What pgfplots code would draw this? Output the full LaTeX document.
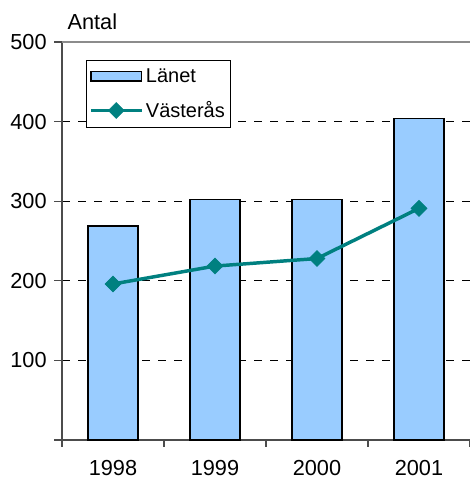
\documentclass[border=0pt]{standalone}
\usepackage{fontspec}
\setmainfont{Liberation Sans}
\usepackage{pgfplots}
\pgfplotsset{compat=1.18}
\definecolor{barblue}{HTML}{99CCFF}
\definecolor{teal2}{HTML}{008080}
\pgfplotsset{
  barlegend/.style={legend image code/.code={\draw[##1] (0pt,-3.4pt) rectangle (38pt,3.4pt);}},
  linelegend/.style={legend image code/.code={\draw[##1, mark repeat=2, mark phase=2] plot coordinates {(0pt,0pt) (19pt,0pt) (38pt,0pt)};}},
}
\begin{document}
\begin{tikzpicture}
\path[use as bounding box] (0,0) rectangle (352.5pt,359.25pt);
\begin{axis}[
  at={(46.5pt,29.25pt)}, anchor=south west,
  scale only axis, width=306pt, height=298.5pt,
  xmin=-0.5, xmax=3.5, ymin=0, ymax=500,
  xtick={0,1,2,3}, xticklabels={1998,1999,2000,2001},
  minor xtick={-0.5,0.5,1.5,2.5,3.5},
  major x tick style={draw=none},
  minor x tick style={draw=black!70, line width=0.8pt},
  minor tick length=5pt,
  ytick={0,100,200,300,400,500}, yticklabels={,100,200,300,400,500},
  y tick style={draw=black!70, line width=0.8pt},
  major tick length=6pt,
  tick align=outside, tick pos=left,
  axis x line*=bottom, axis y line*=left,
  axis line style={draw=black!70, line width=1pt, -},
  ymajorgrids, grid style={black, line width=0.6pt, dash pattern=on 6pt off 6pt},
  ticklabel style={font=\fontsize{16.3}{19}\selectfont},
  /pgf/number format/assume math mode=true,
  xticklabel style={yshift=-6pt},
  yticklabel style={xshift=-2pt},
  legend style={at={(0.059,0.955)}, anchor=north west, draw=black, line width=0.6pt,
    font=\fontsize{15}{18}\selectfont, row sep=9pt, inner xsep=2pt, inner ysep=4pt},
  legend cell align=left,
  clip=false,
]
\addplot[ybar, bar width=37.5pt, fill=barblue, draw=black, line width=1.2pt, barlegend]
  coordinates {(0,269) (1,302) (2,302) (3,404)};
\addlegendentry{Länet}
\addplot[teal2, line width=2.6pt, mark=square*, mark size=4.2pt,
  mark options={rotate=45, solid, fill=teal2, line width=0.5pt}, linelegend]
  coordinates {(0,196) (1,218.5) (2,228) (3,291)};
\addlegendentry{Västerås}
\draw[black!45, line width=1pt] (axis cs:-0.5,500) -- (axis cs:3.5,500);
\node[anchor=south west, font=\fontsize{16.3}{19}\selectfont, inner sep=0pt] at ([xshift=4pt, yshift=9pt]rel axis cs:0,1) {Antal};
\end{axis}
\end{tikzpicture}
\end{document}
